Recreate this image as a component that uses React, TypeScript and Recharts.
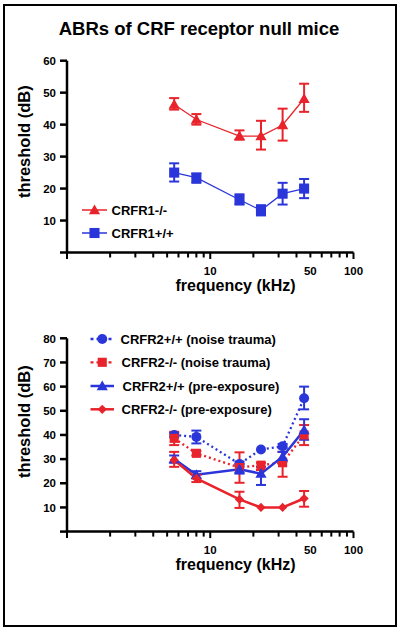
import React from 'react';
import { LineChart, Line, XAxis, YAxis, ErrorBar } from 'recharts';

// ---------- data ----------
const FREQS = [5.6, 8, 16, 22.6, 32, 45.2];
const X_TICKS = [1, 2, 3, 4, 5, 6, 7, 8, 9, 10, 20, 30, 40, 50, 60, 70, 80, 90, 100];
const X_LABELS = [10, 50, 100];
const X_MAJOR = [1, 10, 100];
const TOP_Y_TICKS = [0, 10, 20, 30, 40, 50, 60];
const BOTTOM_Y_TICKS = [0, 10, 20, 30, 40, 50, 60, 70, 80];

const TITLE = 'ABRs of CRF receptor null mice';
const Y_TITLE = 'threshold (dB)';
const X_TITLE = 'frequency (kHz)';

// top panel
const R1KO_MEAN = [46.3, 41.6, 36.4, 36.4, 39.9, 48.1];
const R1KO_LOW = [44.7, 40.0, 35.3, 32.2, 35.0, 44.0];
const R1KO_HIGH = [48.3, 43.3, 38.2, 41.2, 45.0, 52.8];

const R1WT_MEAN = [25.0, 23.4, 16.5, 13.2, 18.4, 20.0];
const R1WT_LOW = [22.2, 21.8, 15.0, 11.6, 15.0, 17.0];
const R1WT_HIGH = [27.9, 24.7, 18.2, 14.8, 21.8, 23.0];

// bottom panel
const R2WT_NT_MEAN = [40.0, 39.2, 28.0, 34.0, 35.3, 55.2];
const R2WT_NT_LOW = [39.0, 36.5, 27.0, null, 34.5, 50.6];
const R2WT_NT_HIGH = [40.9, 41.8, 29.0, null, 36.3, 60.0];

const R2KO_NT_MEAN = [38.6, 32.4, 26.5, 27.5, 28.5, 40.0];
const R2KO_NT_LOW = [35.8, 31.5, 20.2, 25.5, 22.7, 35.8];
const R2KO_NT_HIGH = [41.3, 33.4, 32.8, 28.5, 33.0, 44.1];

const R2WT_PRE_MEAN = [30.0, 23.5, 25.8, 24.0, 31.0, 42.0];
const R2WT_PRE_LOW = [28.5, 22.0, 24.0, 19.3, 29.0, 38.0];
const R2WT_PRE_HIGH = [31.5, 25.0, 28.0, 26.8, 33.0, 46.5];

const R2KO_PRE_MEAN = [29.6, 22.0, 13.3, 10.0, 10.0, 13.7];
const R2KO_PRE_LOW = [26.8, 20.5, 9.8, null, null, 10.3];
const R2KO_PRE_HIGH = [33.0, 23.5, 16.5, null, null, 16.8];

const TOP_LEGEND = ['CRFR1-/-', 'CRFR1+/+'];
const BOTTOM_LEGEND = [
  'CRFR2+/+ (noise trauma)',
  'CRFR2-/- (noise trauma)',
  'CRFR2+/+ (pre-exposure)',
  'CRFR2-/- (pre-exposure)',
];

// ---------- styles ----------
const RED = '#e8232b';
const BLUE = '#2a36d9';
const FONT = "'Liberation Sans', Arial, Helvetica, sans-serif";

const err = (m: number, lo: number | null, hi: number | null) =>
  lo == null || hi == null ? null : [m - lo, hi - m];

const topData = FREQS.map((f, i) => ({
  f,
  r1ko: R1KO_MEAN[i],
  r1koErr: err(R1KO_MEAN[i], R1KO_LOW[i], R1KO_HIGH[i]),
  r1wt: R1WT_MEAN[i],
  r1wtErr: err(R1WT_MEAN[i], R1WT_LOW[i], R1WT_HIGH[i]),
}));

const bottomData = FREQS.map((f, i) => ({
  f,
  wtNt: R2WT_NT_MEAN[i],
  wtNtErr: err(R2WT_NT_MEAN[i], R2WT_NT_LOW[i], R2WT_NT_HIGH[i]),
  koNt: R2KO_NT_MEAN[i],
  koNtErr: err(R2KO_NT_MEAN[i], R2KO_NT_LOW[i], R2KO_NT_HIGH[i]),
  wtPre: R2WT_PRE_MEAN[i],
  wtPreErr: err(R2WT_PRE_MEAN[i], R2WT_PRE_LOW[i], R2WT_PRE_HIGH[i]),
  koPre: R2KO_PRE_MEAN[i],
  koPreErr: err(R2KO_PRE_MEAN[i], R2KO_PRE_LOW[i], R2KO_PRE_HIGH[i]),
}));

// ---------- markers ----------
type Shape = 'triangle' | 'square' | 'circle' | 'diamond';

const Marker = ({ shape, cx, cy, fill, s = 1 }: { shape: Shape; cx: number; cy: number; fill: string; s?: number }) => {
  if (shape === 'triangle') {
    const h = 5.6 * s;
    return <path d={`M${cx},${cy - h} L${cx + h},${cy + h * 0.75} L${cx - h},${cy + h * 0.75} Z`} fill={fill} />;
  }
  if (shape === 'square') {
    const h = 4.8 * s;
    return <rect x={cx - h} y={cy - h} width={2 * h} height={2 * h} fill={fill} />;
  }
  if (shape === 'circle') {
    return <circle cx={cx} cy={cy} r={5 * s} fill={fill} />;
  }
  const h = 4.6 * s;
  return <path d={`M${cx},${cy - h} L${cx + h},${cy} L${cx},${cy + h} L${cx - h},${cy} Z`} fill={fill} />;
};

const dotFn = (shape: Shape, fill: string, s = 1) => (p: any) => (
  <Marker key={`${shape}-${fill}-${p.index}`} shape={shape} cx={p.cx} cy={p.cy} fill={fill} s={s} />
);

// ---------- ticks ----------
const XTick = (props: any) => {
  const { x, y, payload } = props;
  const v = payload.value;
  const major = X_MAJOR.includes(v);
  return (
    <g>
      <line x1={x} x2={x} y1={y} y2={y + (major ? 6.5 : 5)} stroke="#000" strokeWidth={2} />
      {X_LABELS.includes(v) && (
        <text x={x} y={y + 22} textAnchor="middle" fontSize={11.5} fontWeight="bold" fontFamily={FONT} fill="#000">
          {v}
        </text>
      )}
    </g>
  );
};

const YTick = (props: any) => {
  const { x, y, payload } = props;
  const v = payload.value;
  return (
    <g>
      <line x1={x - 7} x2={x} y1={y} y2={y} stroke="#000" strokeWidth={2.5} />
      {v > 0 && (
        <text x={x - 11} y={y + 4.2} textAnchor="end" fontSize={11.5} fontWeight="bold" fontFamily={FONT} fill="#000">
          {v}
        </text>
      )}
    </g>
  );
};

const axisLine = { stroke: '#000', strokeWidth: 2.5 };

const xAxisEl = (
  <XAxis
    dataKey="f"
    type="number"
    scale="log"
    domain={[1, 100]}
    ticks={X_TICKS}
    interval={0}
    tick={<XTick />}
    tickLine={false}
    tickSize={0}
    tickMargin={0}
    axisLine={axisLine}
    height={40}
  />
);

// ---------- legend ----------
const LegendRow = ({
  y, x0, x1, tx, shape, color, dashed, label, s = 1, lw,
}: {
  y: number; x0: number; x1: number; tx: number; shape: Shape; color: string; dashed?: boolean; label: string; s?: number; lw: number;
}) => (
  <g>
    <line x1={x0} x2={x1} y1={y} y2={y} stroke={color} strokeWidth={lw} strokeDasharray={dashed ? '3 3' : undefined} />
    <Marker shape={shape} cx={(x0 + x1) / 2} cy={y} fill={color} s={s} />
    <text x={tx} y={y + 4.7} fontSize={13} fontWeight="bold" fontFamily={FONT} fill="#000">
      {label}
    </text>
  </g>
);

export default function App() {
  return (
    <div
      style={{
        position: 'absolute',
        left: 0,
        top: 0,
        width: 400,
        height: 629,
        background: '#fff',
        overflow: 'hidden',
      }}
    >
      {/* border */}
      <div
        style={{
          position: 'absolute',
          left: 3,
          top: 3.5,
          width: 394,
          height: 623,
          border: '2.5px solid #000',
          boxSizing: 'border-box',
        }}
      />

      {/* top chart */}
      <div style={{ position: 'absolute', left: 0, top: 0 }}>
        <LineChart width={400} height={300} data={topData} margin={{ top: 60.7, right: 46.5, bottom: 7.5, left: 37 }}>
          {xAxisEl}
          <YAxis
            type="number"
            domain={[0, 60]}
            ticks={TOP_Y_TICKS}
            interval={0}
            tick={<YTick />}
            tickLine={false}
            tickSize={0}
            tickMargin={0}
            axisLine={axisLine}
            width={30}
          />
          <Line dataKey="r1ko" stroke={RED} strokeWidth={1.3} isAnimationActive={false} dot={dotFn('triangle', RED)} activeDot={false}>
            <ErrorBar dataKey="r1koErr" direction="y" width={5} stroke={RED} strokeWidth={2} isAnimationActive={false} />
          </Line>
          <Line dataKey="r1wt" stroke={BLUE} strokeWidth={1.3} isAnimationActive={false} dot={dotFn('square', BLUE, 1.05)} activeDot={false}>
            <ErrorBar dataKey="r1wtErr" direction="y" width={5} stroke={BLUE} strokeWidth={2} isAnimationActive={false} />
          </Line>
        </LineChart>
      </div>

      {/* bottom chart */}
      <div style={{ position: 'absolute', left: 0, top: 310 }}>
        <LineChart width={400} height={290} data={bottomData} margin={{ top: 28.3, right: 46.5, bottom: 28.4, left: 37 }}>
          {xAxisEl}
          <YAxis
            type="number"
            domain={[0, 80]}
            ticks={BOTTOM_Y_TICKS}
            interval={0}
            tick={<YTick />}
            tickLine={false}
            tickSize={0}
            tickMargin={0}
            axisLine={axisLine}
            width={30}
          />
          <Line dataKey="wtNt" stroke={BLUE} strokeWidth={2.3} strokeDasharray="2 3" isAnimationActive={false} dot={dotFn('circle', BLUE)} activeDot={false}>
            <ErrorBar dataKey="wtNtErr" direction="y" width={5} stroke={BLUE} strokeWidth={2} isAnimationActive={false} />
          </Line>
          <Line dataKey="koNt" stroke={RED} strokeWidth={2.3} strokeDasharray="2 3" isAnimationActive={false} dot={dotFn('square', RED, 0.95)} activeDot={false}>
            <ErrorBar dataKey="koNtErr" direction="y" width={5} stroke={RED} strokeWidth={2} isAnimationActive={false} />
          </Line>
          <Line dataKey="wtPre" stroke={BLUE} strokeWidth={2.5} isAnimationActive={false} dot={dotFn('triangle', BLUE)} activeDot={false}>
            <ErrorBar dataKey="wtPreErr" direction="y" width={5} stroke={BLUE} strokeWidth={2} isAnimationActive={false} />
          </Line>
          <Line dataKey="koPre" stroke={RED} strokeWidth={2.5} isAnimationActive={false} dot={dotFn('diamond', RED)} activeDot={false}>
            <ErrorBar dataKey="koPreErr" direction="y" width={5} stroke={RED} strokeWidth={2} isAnimationActive={false} />
          </Line>
        </LineChart>
      </div>

      {/* text overlay: title, axis titles, legends */}
      <svg width={400} height={629} style={{ position: 'absolute', left: 0, top: 0, pointerEvents: 'none' }}>
        <text x={199} y={35} textAnchor="middle" fontSize={18.5} fontWeight="bold" fontFamily={FONT} fill="#000">
          {TITLE}
        </text>

        <text transform="translate(29.5,141.7) rotate(-90)" textAnchor="middle" fontSize={16.5} fontWeight="bold" fontFamily={FONT} fill="#000">
          {Y_TITLE}
        </text>
        <text x={235.5} y={291} textAnchor="middle" fontSize={16} fontWeight="bold" fontFamily={FONT} fill="#000">
          {X_TITLE}
        </text>

        <text transform="translate(29.5,421.7) rotate(-90)" textAnchor="middle" fontSize={16.5} fontWeight="bold" fontFamily={FONT} fill="#000">
          {Y_TITLE}
        </text>
        <text x={235.5} y={570} textAnchor="middle" fontSize={16} fontWeight="bold" fontFamily={FONT} fill="#000">
          {X_TITLE}
        </text>

        <LegendRow y={210} x0={82} x1={107} tx={111.5} shape="triangle" color={RED} label={TOP_LEGEND[0]} lw={1.5} />
        <LegendRow y={233} x0={82} x1={107} tx={111.5} shape="square" color={BLUE} label={TOP_LEGEND[1]} s={1.05} lw={1.5} />

        <LegendRow y={339} x0={90.5} x1={114} tx={120.5} shape="circle" color={BLUE} dashed label={BOTTOM_LEGEND[0]} lw={2.3} />
        <LegendRow y={362.3} x0={90.5} x1={114} tx={121.5} shape="square" color={RED} dashed label={BOTTOM_LEGEND[1]} s={0.95} lw={2.3} />
        <LegendRow y={386} x0={90.5} x1={114} tx={122.5} shape="triangle" color={BLUE} label={BOTTOM_LEGEND[2]} lw={2.5} />
        <LegendRow y={409.3} x0={90.5} x1={114} tx={121.5} shape="diamond" color={RED} label={BOTTOM_LEGEND[3]} lw={2.5} />
      </svg>
    </div>
  );
}
